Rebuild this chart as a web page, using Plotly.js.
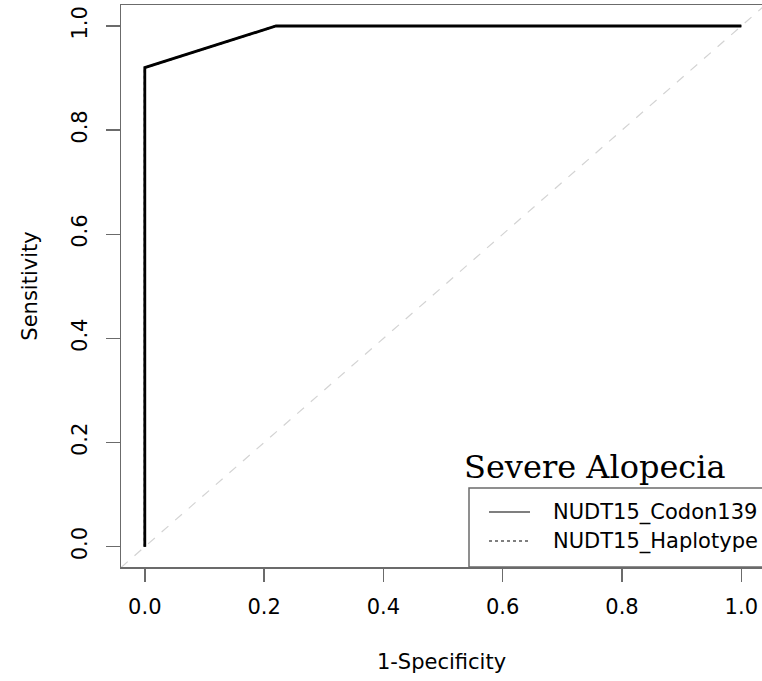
<!DOCTYPE html>
<html><head><meta charset="utf-8">
<script src="https://cdn.plot.ly/plotly-3.0.1.min.js"></script>
<style>html,body{margin:0;padding:0;background:#fff}</style>
</head><body><div id="chart" style="width:762px;height:681px"></div>
<script>
// Data
var codonFPR = [0, 0, 0.22, 1];
var codonTPR = [0, 0.92, 1, 1];
var haploFPR = [0, 0, 0.22, 1];
var haploTPR = [0, 0.92, 1, 1];
var refLine = [-0.04, 1.04];
var xTicks = [0, 0.2, 0.4, 0.6, 0.8, 1.0];
var xTickText = ["0.0", "0.2", "0.4", "0.6", "0.8", "1.0"];
var yTicks = [0, 0.2, 0.4, 0.6, 0.8, 1.0];
var yTickText = ["0.0", "0.2", "0.4", "0.6", "0.8", "1.0"];
var seriesNames = ["NUDT15_Codon139", "NUDT15_Haplotype"];

// plot area in pixels
var L = 121, R = 762, T = 5, B = 567;
function px(x){ return (x - L) / (R - L); }
function py(y){ return (B - y) / (B - T); }

var font = "DejaVu Sans, Liberation Sans, Arial, sans-serif";
var axisCol = "#6b6b6b";
var fs = 21;

var traces = [
  {x: refLine, y: refLine, mode: "lines", line: {color: "#d3d3d3", width: 1.2, dash: "dash"}, showlegend: false, hoverinfo: "skip"},
  {x: haploFPR, y: haploTPR, mode: "lines", name: seriesNames[1], line: {color: "#000", width: 2, dash: "dot"}, showlegend: false},
  {x: codonFPR, y: codonTPR, mode: "lines", name: seriesNames[0], line: {color: "#000", width: 2.8}, showlegend: false}
];

var layout = {
  width: 762, height: 681,
  margin: {l: L, r: 762 - R, t: T, b: 681 - B, pad: 0},
  paper_bgcolor: "#fff", plot_bgcolor: "#fff",
  font: {family: font, size: fs, color: "#000"},
  xaxis: {
    range: [-0.0399, 1.0347], tickvals: xTicks, ticktext: xTickText,
    ticks: "outside", ticklen: 13, tickwidth: 1.5, tickcolor: axisCol, ticklabelstandoff: 7,
    showline: true, linecolor: axisCol, linewidth: 1.5, mirror: true,
    showgrid: false, zeroline: false, automargin: false,
    tickfont: {family: font, size: fs, color: "#000"},
    title: {text: "1-Specificity", font: {family: font, size: fs, color: "#000"}, standoff: 36}
  },
  yaxis: {
    range: [-0.039, 1.0403], tickvals: yTicks, ticktext: yTickText,
    ticks: "outside", ticklen: 14, tickwidth: 1.5, tickcolor: axisCol, tickangle: -90, ticklabelstandoff: 10,
    showline: true, linecolor: axisCol, linewidth: 1.5, mirror: false,
    showgrid: false, zeroline: false, automargin: false,
    tickfont: {family: font, size: fs, color: "#000"},
    title: {text: "Sensitivity", font: {family: font, size: fs, color: "#000"}, standoff: 24}
  },
  shapes: [
    {type: "rect", xref: "paper", yref: "paper", x0: px(469), x1: px(770), y0: py(567), y1: py(488),
     line: {color: axisCol, width: 1.5}, fillcolor: "rgba(0,0,0,0)"},
    {type: "line", xref: "paper", yref: "paper", x0: px(489), x1: px(530), y0: py(512), y1: py(512),
     line: {color: "#555", width: 1.5}},
    {type: "line", xref: "paper", yref: "paper", x0: px(489), x1: px(530), y0: py(541), y1: py(541),
     line: {color: "#555", width: 1.5, dash: "dot"}}
  ],
  annotations: [
    {text: "Severe Alopecia", xref: "paper", yref: "paper", x: px(595), y: py(467), xanchor: "center", yanchor: "middle",
     showarrow: false, font: {family: "DejaVu Serif, Liberation Serif, serif", size: 32, color: "#000"}},
    {text: seriesNames[0], xref: "paper", yref: "paper", x: px(551), y: py(512), xanchor: "left", yanchor: "middle",
     showarrow: false, font: {family: font, size: fs, color: "#000"}},
    {text: seriesNames[1], xref: "paper", yref: "paper", x: px(551), y: py(541), xanchor: "left", yanchor: "middle",
     showarrow: false, font: {family: font, size: fs, color: "#000"}}
  ]
};
Plotly.newPlot("chart", traces, layout, {displayModeBar: false, staticPlot: true});
</script></body></html>
